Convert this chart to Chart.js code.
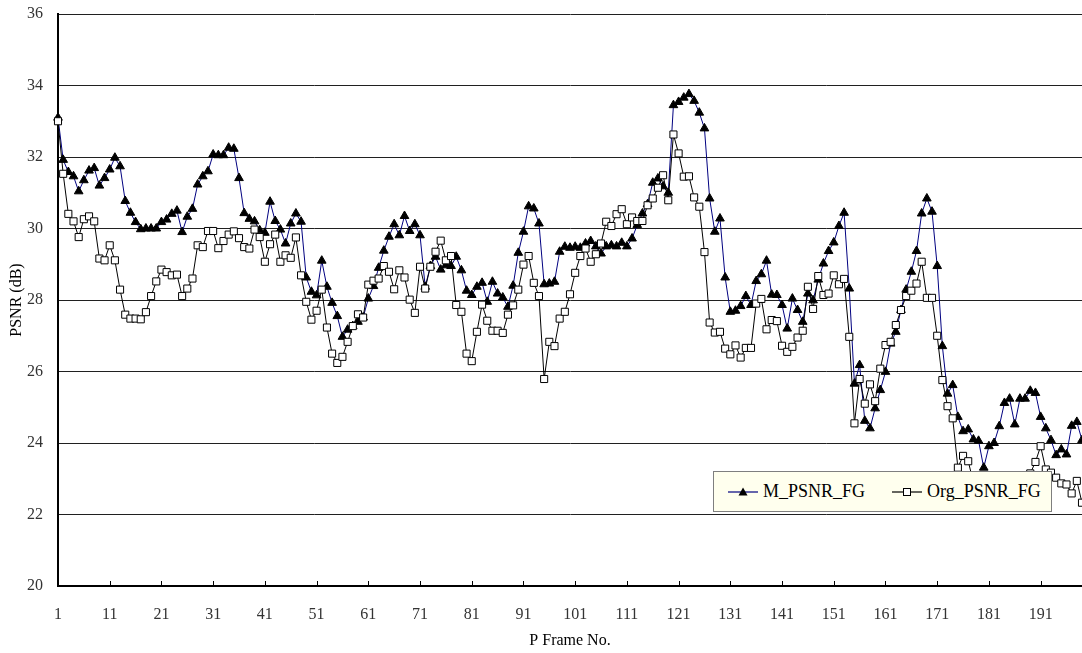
<!DOCTYPE html>
<html>
<head>
<meta charset="utf-8">
<title>PSNR per P frame</title>
<script src="https://cdn.jsdelivr.net/npm/chart.js@4.4.1/dist/chart.umd.min.js"></script>
<style>
  html, body { margin: 0; padding: 0; background: #fff; overflow: hidden; }
  #wrap { position: relative; width: 1082px; height: 653px; overflow: hidden; }
  #legend {
    position: absolute; left: 713px; top: 471px; width: 337px; height: 39px;
    background: #ffffee; border: 1px solid #7f7f7f;
    font: 18px "Liberation Serif", "Times New Roman", serif; color: #000;
  }
  #legend .item { position: absolute; top: 0; height: 39px; display: flex; align-items: center; }
  #legend svg { margin-right: 5px; }
</style>
</head>
<body>
<div id="wrap">
  <!-- 画布比窗口稍宽，右边被裁掉，和原图一样 -->
  <canvas id="psnrChart" width="1088" height="653"></canvas>
  <div id="legend">
    <div class="item" style="left:14px">
      <svg width="30" height="12"><line x1="0" y1="6" x2="30" y2="6" stroke="#000080" stroke-width="1.2"/><polygon points="15,1.5 19.5,9.5 10.5,9.5" fill="#000"/></svg>M_PSNR_FG
    </div>
    <div class="item" style="left:178px">
      <svg width="30" height="12"><line x1="0" y1="6" x2="30" y2="6" stroke="#000" stroke-width="1.2"/><rect x="11.5" y="2.5" width="7" height="7" fill="#fff" stroke="#000" stroke-width="1"/></svg>Org_PSNR_FG
    </div>
  </div>
</div>
<script>
// 帧号 1..199（图右侧被截断）
const frameNo = Array.from({ length: 199 }, (_, i) => i + 1);
const tickEvery = 10;

// M_PSNR_FG
const mPsnrFg = [
  33.10, 31.92, 31.58, 31.46, 31.04, 31.35, 31.62, 31.69, 31.20, 31.41,
  31.65, 31.98, 31.74, 30.77, 30.44, 30.18, 29.98, 30.00, 30.00, 30.00,
  30.18, 30.25, 30.41, 30.50, 29.90, 30.33, 30.55, 31.23, 31.46, 31.60,
  32.07, 32.05, 32.05, 32.26, 32.23, 31.41, 30.43, 30.27, 30.20, 29.95,
  29.88, 30.75, 30.21, 29.97, 29.58, 30.14, 30.42, 30.19, 28.63, 28.23,
  28.13, 29.10, 28.37, 27.92, 27.55, 26.97, 27.17, 27.27, 27.39, 27.51,
  28.04, 28.39, 28.90, 29.38, 29.77, 30.12, 29.81, 30.35, 29.93, 30.12,
  29.81, 28.37, 28.95, 29.21, 28.85, 28.97, 28.95, 29.21, 28.83, 28.26,
  28.14, 28.37, 28.48, 27.95, 28.51, 28.18, 28.07, 27.81, 28.40, 29.32,
  29.91, 30.62, 30.56, 30.14, 28.44, 28.46, 28.51, 29.35, 29.49, 29.46,
  29.49, 29.46, 29.58, 29.65, 29.50, 29.30, 29.50, 29.53, 29.50, 29.60,
  29.50, 29.72, 30.10, 30.42, 30.68, 31.28, 31.40, 31.18, 31.00, 33.45,
  33.54, 33.66, 33.76, 33.57, 33.24, 32.80, 30.84, 29.91, 30.28, 28.63,
  27.67, 27.70, 27.83, 28.11, 27.86, 28.53, 28.72, 29.10, 28.15, 28.14,
  27.86, 27.20, 28.04, 27.72, 27.39, 28.18, 27.99, 28.57, 29.02, 29.37,
  29.61, 30.07, 30.44, 28.32, 25.66, 26.18, 24.62, 24.41, 24.97, 25.48,
  25.99, 26.78, 27.11, 27.72, 28.29, 28.79, 29.37, 30.42, 30.84, 30.47,
  28.95, 26.71, 25.38, 25.62, 24.73, 24.33, 24.38, 24.10, 24.06, 23.31,
  23.91, 24.00, 24.47, 25.12, 25.24, 24.52, 25.24, 25.24, 25.46, 25.40,
  24.73, 24.41, 24.08, 23.66, 23.82, 23.68, 24.48, 24.59, 24.08
];

// Org_PSNR_FG
const orgPsnrFg = [
  33.00, 31.53, 30.41, 30.20, 29.76, 30.26, 30.34, 30.20, 29.16, 29.11,
  29.53, 29.11, 28.29, 27.59, 27.48, 27.48, 27.46, 27.66, 28.11, 28.52,
  28.85, 28.78, 28.69, 28.71, 28.11, 28.32, 28.60, 29.53, 29.48, 29.93,
  29.93, 29.45, 29.65, 29.83, 29.92, 29.73, 29.48, 29.44, 29.97, 29.76,
  29.07, 29.56, 29.83, 29.07, 29.25, 29.18, 29.75, 28.69, 27.95, 27.45,
  27.70, 28.29, 27.23, 26.50, 26.24, 26.41, 26.83, 27.27, 27.60, 27.51,
  28.43, 28.54, 28.60, 28.95, 28.79, 28.30, 28.83, 28.63, 28.01, 27.64,
  28.93, 28.32, 28.93, 29.35, 29.66, 29.11, 29.23, 27.86, 27.67, 26.50,
  26.29, 27.11, 27.87, 27.42, 27.14, 27.14, 27.08, 27.59, 27.85, 28.29,
  28.99, 29.23, 28.48, 28.11, 25.79, 26.83, 26.71, 27.48, 27.67, 28.16,
  28.76, 29.23, 29.44, 29.07, 29.28, 29.58, 30.19, 30.07, 30.40, 30.54,
  30.12, 30.31, 30.21, 30.21, 30.65, 30.84, 31.14, 31.49, 30.79, 32.63,
  32.10, 31.45, 31.46, 30.87, 30.61, 29.34, 27.37, 27.09, 27.11, 26.64,
  26.48, 26.73, 26.39, 26.66, 26.66, 27.90, 28.03, 27.18, 27.44, 27.41,
  26.72, 26.55, 26.69, 26.95, 27.14, 28.37, 27.75, 28.67, 28.14, 28.18,
  28.69, 28.44, 28.59, 26.97, 24.55, 25.79, 25.10, 25.64, 25.17, 26.08,
  26.74, 26.83, 27.30, 27.72, 28.11, 28.26, 28.46, 29.07, 28.06, 28.06,
  27.00, 25.76, 25.03, 24.69, 23.31, 23.64, 23.49, 22.90, 22.70, 22.50,
  22.60, 22.80, 22.70, 22.90, 22.60, 22.80, 22.90, 23.00, 23.15, 23.47,
  23.91, 23.26, 23.17, 23.03, 22.87, 22.84, 22.59, 22.94, 22.33
];

const yMin = 20, yMax = 36, yStep = 2;
const serif = '"Liberation Serif", "Times New Roman", serif';

// x 轴刻度线朝内画
const innerTicks = {
  id: 'innerTicks',
  beforeDatasetsDraw(chart) {
    const { ctx, chartArea, scales: { x } } = chart;
    ctx.save();
    ctx.strokeStyle = '#000';
    ctx.lineWidth = 1;
    frameNo.forEach((f, i) => {
      if (i % tickEvery) return;
      const px = Math.round(x.getPixelForValue(i)) + 0.5;
      ctx.beginPath();
      ctx.moveTo(px, chartArea.bottom);
      ctx.lineTo(px, chartArea.bottom - 5);
      ctx.stroke();
    });
    ctx.restore();
  }
};

new Chart(document.getElementById('psnrChart'), {
  type: 'line',
  data: {
    labels: frameNo,
    datasets: [
      {
        label: 'M_PSNR_FG',
        data: mPsnrFg,
        borderColor: '#000080',
        borderWidth: 1,
        pointStyle: 'triangle',
        pointRadius: 5,
        pointBackgroundColor: '#000',
        pointBorderColor: '#000',
        pointBorderWidth: 1,
        tension: 0,
        order: 2
      },
      {
        label: 'Org_PSNR_FG',
        data: orgPsnrFg,
        borderColor: '#000',
        borderWidth: 1,
        pointStyle: 'rect',
        pointRadius: 5,
        pointBackgroundColor: '#fff',
        pointBorderColor: '#000',
        pointBorderWidth: 1,
        tension: 0,
        order: 1
      }
    ]
  },
  options: {
    responsive: false,
    animation: false,
    devicePixelRatio: 1,
    layout: { padding: { top: 14, right: 0, bottom: 3, left: 7 } },
    plugins: { legend: { display: false }, tooltip: { enabled: false } },
    scales: {
      x: {
        type: 'category',
        offset: false,
        grid: { display: false, drawTicks: false },
        border: { display: true, color: '#000', width: 2 },
        ticks: {
          autoSkip: false,
          maxRotation: 0,
          padding: 19,
          color: '#333',
          font: { family: serif, size: 16 },
          callback: (v, i) => (i % tickEvery === 0 ? String(frameNo[i]) : '')
        },
        title: {
          display: true, text: 'P Frame No.', color: '#000',
          font: { family: serif, size: 16 }, padding: { top: 7, bottom: 0 }
        },
        afterFit(s) {
          s.height = 64;
          s.paddingLeft = 0;
          s.paddingRight = 0;
        }
      },
      y: {
        min: yMin,
        max: yMax,
        grid: { color: '#202020', lineWidth: 1, drawTicks: false },
        border: { display: true, color: '#000', width: 2 },
        ticks: {
          stepSize: yStep,
          padding: 15,
          color: '#333',
          font: { family: serif, size: 16 }
        },
        title: {
          display: true, text: 'PSNR (dB)', color: '#000',
          font: { family: serif, size: 16 }, padding: { top: 0, bottom: 0 }
        },
        afterFit(s) {
          s.width = 51;
          s.paddingTop = 0;
          s.paddingBottom = 0;
        }
      }
    }
  },
  plugins: [innerTicks]
});
</script>
</body>
</html>
